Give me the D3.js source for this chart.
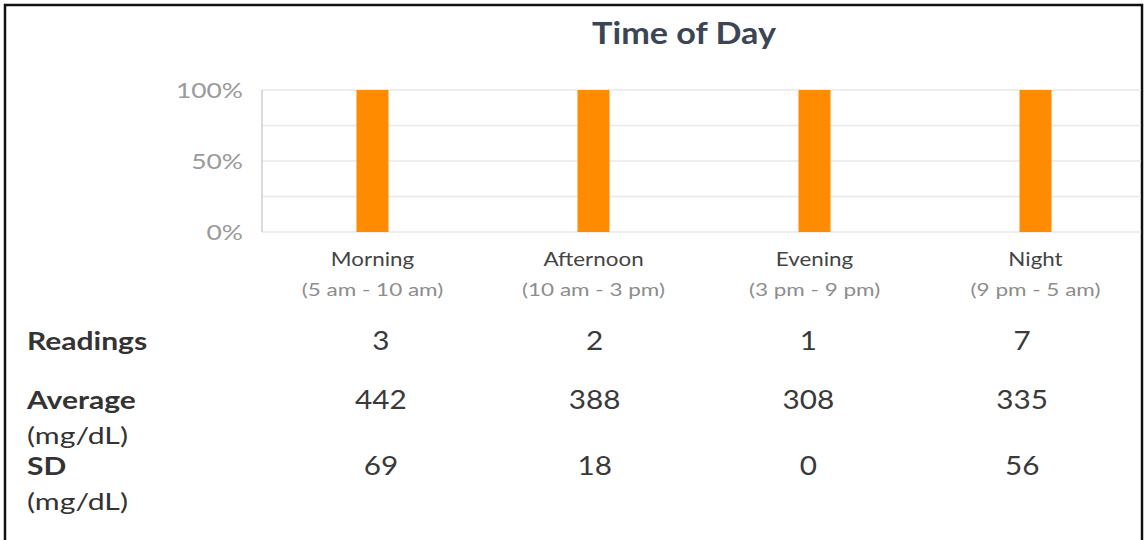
<!DOCTYPE html>
<html>
<head>
<meta charset="utf-8">
<script src="https://cdn.jsdelivr.net/npm/d3@7"></script>
<style>
  html, body { margin: 0; padding: 0; background: #fff; }
  svg text { font-family: Lato, "Open Sans", sans-serif; }
</style>
</head>
<body>
<svg id="chart" width="1144" height="540"></svg>
<script>
var periods = ['Morning', 'Afternoon', 'Evening', 'Night']
var periodHours = ['(5 am - 10 am)', '(10 am - 3 pm)', '(3 pm - 9 pm)', '(9 pm - 5 am)']
var percentValues = [100, 100, 100, 100]
var yTicks = [0, 50, 100]
var gridTicks = [0, 25, 50, 75, 100]
var readings = [3, 2, 1, 7]
var averages = [442, 388, 308, 335]
var sds = [69, 18, 0, 56]

var svg = d3.select('#chart')
var plotLeft = 262, plotRight = 1146, plotTop = 90, plotBottom = 232

// the source screenshot is a bit wider than tall, so text gets stretched sideways
function place(sel, fx, fy, sx) {
    return sel.attr('x', 0).attr('y', 0)
        .attr('transform', (d, i) => `translate(${fx(d, i)},${fy(d, i)}) scale(${sx},1)`)
}

// frame
svg.append('path')
    .attr('d', 'M5 560 L5 5 L1142 5 L1142 560')
    .attr('fill', 'none')
    .attr('stroke', '#111')
    .attr('stroke-width', 2.5)

var x = d3.scaleBand()
    .domain(periods)
    .range([plotLeft, plotRight])
var y = d3.scaleLinear()
    .domain([0, 100])
    .range([plotBottom, plotTop])

place(svg.append('text'), () => 684, () => 44, 1.14)
    .attr('text-anchor', 'middle')
    .attr('font-size', 30)
    .attr('font-weight', 'bold')
    .attr('fill', '#3b4554')
    .text('Time of Day')

// grid
svg.selectAll('.grid')
    .data(gridTicks)
    .join('line')
    .attr('class', 'grid')
    .attr('x1', plotLeft)
    .attr('x2', 1141)
    .attr('y1', d => y(d))
    .attr('y2', d => y(d))
    .attr('stroke', '#e8e8e8')
    .attr('stroke-width', 1.5)

svg.append('line')
    .attr('x1', plotLeft).attr('x2', plotLeft)
    .attr('y1', plotTop).attr('y2', plotBottom)
    .attr('stroke', '#cfcfcf')
    .attr('stroke-width', 1.5)

var yAxis = d3.axisLeft(y)
    .tickValues(yTicks)
    .tickSize(0)
    .tickPadding(19)
    .tickFormat(d => d + '%')
var gY = svg.append('g')
    .attr('transform', `translate(${plotLeft},0)`)
    .call(yAxis)
gY.select('.domain').remove()
gY.selectAll('text')
    .attr('font-size', 22)
    .attr('fill', '#9a9a9a')
    .attr('font-family', 'Lato')
    .attr('x', 0)
    .attr('transform', 'translate(-19,0) scale(1.2,1)')

var barWidth = 32
svg.selectAll('.bar')
    .data(percentValues)
    .join('rect')
    .attr('class', 'bar')
    .attr('x', (d, i) => x(periods[i]) + x.bandwidth() / 2 - barWidth / 2)
    .attr('y', d => y(d))
    .attr('width', barWidth)
    .attr('height', d => y(0) - y(d))
    .attr('fill', '#ff8c00')

place(svg.selectAll('.cat').data(periods).join('text').attr('class', 'cat'),
        d => x(d) + x.bandwidth() / 2, () => 266, 1.12)
    .attr('text-anchor', 'middle')
    .attr('font-size', 20)
    .attr('fill', '#444')
    .text(d => d)

place(svg.selectAll('.hours').data(periodHours).join('text').attr('class', 'hours'),
        (d, i) => x(periods[i]) + x.bandwidth() / 2, () => 296, 1.25)
    .attr('text-anchor', 'middle')
    .attr('font-size', 18)
    .attr('fill', '#8d8d8d')
    .text(d => d)

// table
var col = d3.scaleBand()
    .domain(periods)
    .range([274, 1129])

var rows = [
    {label: 'Readings', unit: null, values: readings, y: 350},
    {label: 'Average', unit: '(mg/dL)', values: averages, y: 409},
    {label: 'SD', unit: '(mg/dL)', values: sds, y: 475}
]

rows.forEach(function (r) {
    place(svg.append('text'), () => 27, () => r.y, 1.2)
        .attr('font-size', 25)
        .attr('font-weight', 'bold')
        .attr('fill', '#333')
        .text(r.label)
    if (r.unit) {
        place(svg.append('text'), () => 27, () => r.y + 35, 1.26)
            .attr('font-size', 24)
            .attr('fill', '#333')
            .text(r.unit)
    }
    place(svg.selectAll(null).data(r.values).join('text'),
            (d, i) => col(periods[i]) + col.bandwidth() / 2, () => r.y, 1.1)
        .attr('text-anchor', 'middle')
        .attr('font-size', 27)
        .attr('fill', '#3a3a3a')
        .text(d => d)
})
</script>
</body>
</html>
